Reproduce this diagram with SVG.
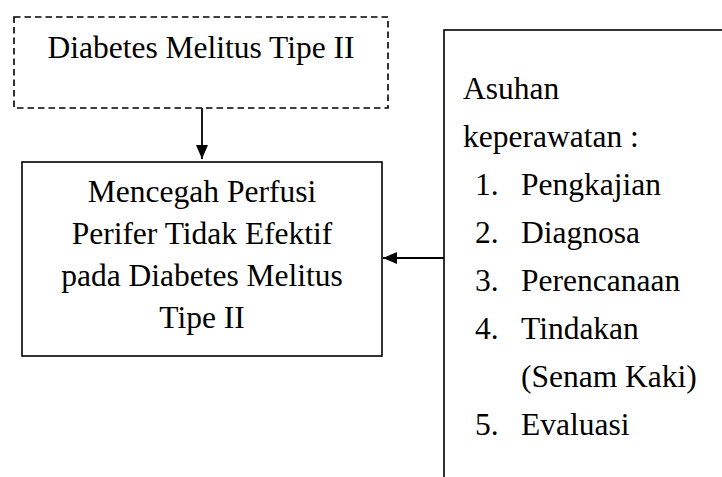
<svg xmlns="http://www.w3.org/2000/svg" width="722" height="477" viewBox="0 0 722 477">
<defs>
<style>
text{font-family:'Liberation Serif',serif;font-size:31.5px;fill:#000}
.c{text-anchor:middle}
.box{fill:#fff;stroke:#000;stroke-width:1.6}
.dash{fill:#fff;stroke:#000;stroke-width:1.6;stroke-dasharray:6.5,4}
.ln{stroke:#000;stroke-width:1.8;fill:none}
</style>
<marker id="ah" viewBox="0 0 14 12" refX="14" refY="6" markerWidth="14" markerHeight="12" markerUnits="userSpaceOnUse" orient="auto">
<path d="M0,0 L14,6 L0,12 Z" fill="#000"/>
</marker>
</defs>
<rect width="722" height="477" fill="#fff"/>
<g id="connectors">
<line class="ln" x1="202" y1="108" x2="202" y2="159" marker-end="url(#ah)"/>
<line class="ln" x1="444" y1="258" x2="383" y2="258" marker-end="url(#ah)"/>
</g>
<g id="node-dm" font-family="Liberation Serif, serif">
<rect class="dash" x="14" y="17" width="374" height="91"/>
<text class="c" x="201" y="57.5">Diabetes Melitus Tipe II</text>
</g>
<g id="node-mencegah" font-family="Liberation Serif, serif">
<rect class="box" x="22" y="162" width="360" height="194"/>
<text class="c" x="202" y="202">Mencegah Perfusi</text>
<text class="c" x="202" y="244">Perifer Tidak Efektif</text>
<text class="c" x="202" y="286">pada Diabetes Melitus</text>
<text class="c" x="202" y="328">Tipe II</text>
</g>
<g id="node-asuhan" font-family="Liberation Serif, serif">
<rect class="box" x="444" y="30" width="300" height="470"/>
<text x="463" y="99">Asuhan</text>
<text x="463" y="147">keperawatan :</text>
<text x="475" y="195">1.</text><text x="521" y="195">Pengkajian</text>
<text x="475" y="243">2.</text><text x="521" y="243">Diagnosa</text>
<text x="475" y="291">3.</text><text x="521" y="291">Perencanaan</text>
<text x="475" y="339">4.</text><text x="521" y="339">Tindakan</text>
<text x="521" y="387">(Senam Kaki)</text>
<text x="475" y="435">5.</text><text x="521" y="435">Evaluasi</text>
</g>
</svg>
